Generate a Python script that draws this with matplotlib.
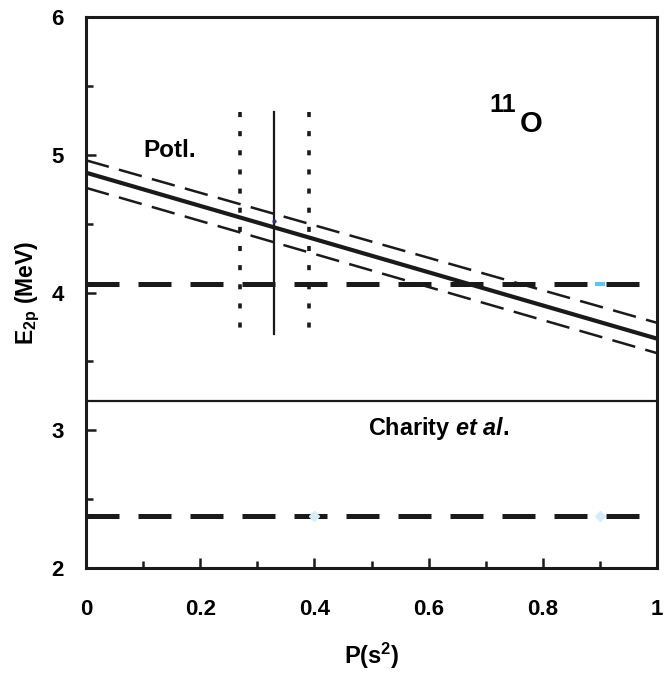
import matplotlib
matplotlib.use('agg')
import matplotlib.pyplot as plt

plt.rcParams['font.family'] = ['Liberation Sans', 'DejaVu Sans']
plt.rcParams['font.weight'] = 'bold'
plt.rcParams['mathtext.fontset'] = 'custom'
plt.rcParams['mathtext.rm'] = 'Liberation Sans:bold'
plt.rcParams['mathtext.bf'] = 'Liberation Sans:bold'
plt.rcParams['mathtext.it'] = 'Liberation Sans:bold:italic'

# 数据
p = [0.0, 1.0]
e_potl = [4.87, 3.665]
e_potl_hi = [4.96, 3.78]
e_potl_lo = [4.76, 3.56]

# 水平虚线 (实验值)
p_flat = [0.0, 0.97]
e_exp_top = [4.06, 4.06]
e_charity = [2.38, 2.38]

# 竖线 P(s^2) 及误差
p_vert = [0.27, 0.33, 0.39]
e_vert = [3.70, 5.31]

# 分隔线
e_split = 3.215

# 淡色残留点
ghost_p = [0.4, 0.9]
ghost_e = [2.38, 2.38]

xticks = [0, 0.2, 0.4, 0.6, 0.8, 1.0]
xticklabels = ['0', '0.2', '0.4', '0.6', '0.8', '1']
yticks = [2, 3, 4, 5, 6]

fig = plt.figure(figsize=(6.64, 6.73), dpi=100)
ax = fig.add_axes([0.1295, 0.156, 0.86, 0.8187])

ax.plot(p, e_potl, color='#1a1a1a', lw=3.0, solid_capstyle='butt')
ax.plot(p, e_potl_hi, color='#1a1a1a', lw=1.8, dashes=(9.5, 4.2))
ax.plot(p, e_potl_lo, color='#1a1a1a', lw=1.8, dashes=(9.5, 4.2))

ax.plot(p_flat, e_exp_top, color='#1a1a1a', lw=3.6, dashes=(6.6, 3.8))
ax.plot(p_flat, e_charity, color='#1a1a1a', lw=3.6, dashes=(6.6, 3.8))

ax.plot([p_vert[1]] * 2, e_vert, color='#1a1a1a', lw=1.6)
for pv in (p_vert[0], p_vert[2]):
    ax.plot([pv, pv], e_vert[::-1], color='#1a1a1a', lw=2.6, dashes=(1.4, 3.9))

ax.axhline(e_split, color='#1a1a1a', lw=1.6)

ax.plot(ghost_p, ghost_e, ls='none', marker='D', ms=5, color='#d4edf7', zorder=3)
ax.plot([0.9], [4.06], ls='none', marker='_', ms=7, mew=3, color='#5cc6ee', zorder=3)
ax.plot([0.33], [4.52], ls='none', marker='o', ms=2, color='#303080', zorder=3)

ax.text(0.10, 5.03, 'Potl.', fontsize=17.5, fontweight='bold', va='center', ha='left')
ax.text(0.706, 5.31, '11', fontsize=18, fontweight='bold', va='baseline', ha='left')
ax.text(0.76, 5.165, 'O', fontsize=21, fontweight='bold', va='baseline', ha='left')
ax.text(0.494, 3.016, r'Charity $\mathit{et\ al.}$', fontsize=16.8, fontweight='bold',
        va='center', ha='left')

ax.set_xlim(0, 1)
ax.set_ylim(2, 6)
ax.set_xticks(xticks)
ax.set_xticklabels(xticklabels)
ax.set_xticks([0.1, 0.3, 0.5, 0.7, 0.9], minor=True)
ax.set_yticks(yticks)
ax.set_yticks([2.5, 3.5, 4.5, 5.5], minor=True)
ax.tick_params(which='both', direction='in', width=1.8, color='#1a1a1a',
               labelsize=16, top=False, right=False)
ax.tick_params(axis='x', pad=22)
ax.tick_params(axis='y', pad=16)
ax.tick_params(which='major', length=7)
ax.tick_params(which='minor', length=5)
for lab in ax.get_xticklabels() + ax.get_yticklabels():
    lab.set_fontweight('bold')
for s in ax.spines.values():
    s.set_linewidth(2.2)
    s.set_color('#1a1a1a')

ax.set_xlabel(r'P(s$^{\mathbf{2}}$)', fontsize=17, fontweight='bold', labelpad=15)
ax.set_ylabel(r'E$_{\mathbf{2p}}$ (MeV)', fontsize=16.5, fontweight='bold', labelpad=7)

plt.savefig('out.png', dpi=100)
